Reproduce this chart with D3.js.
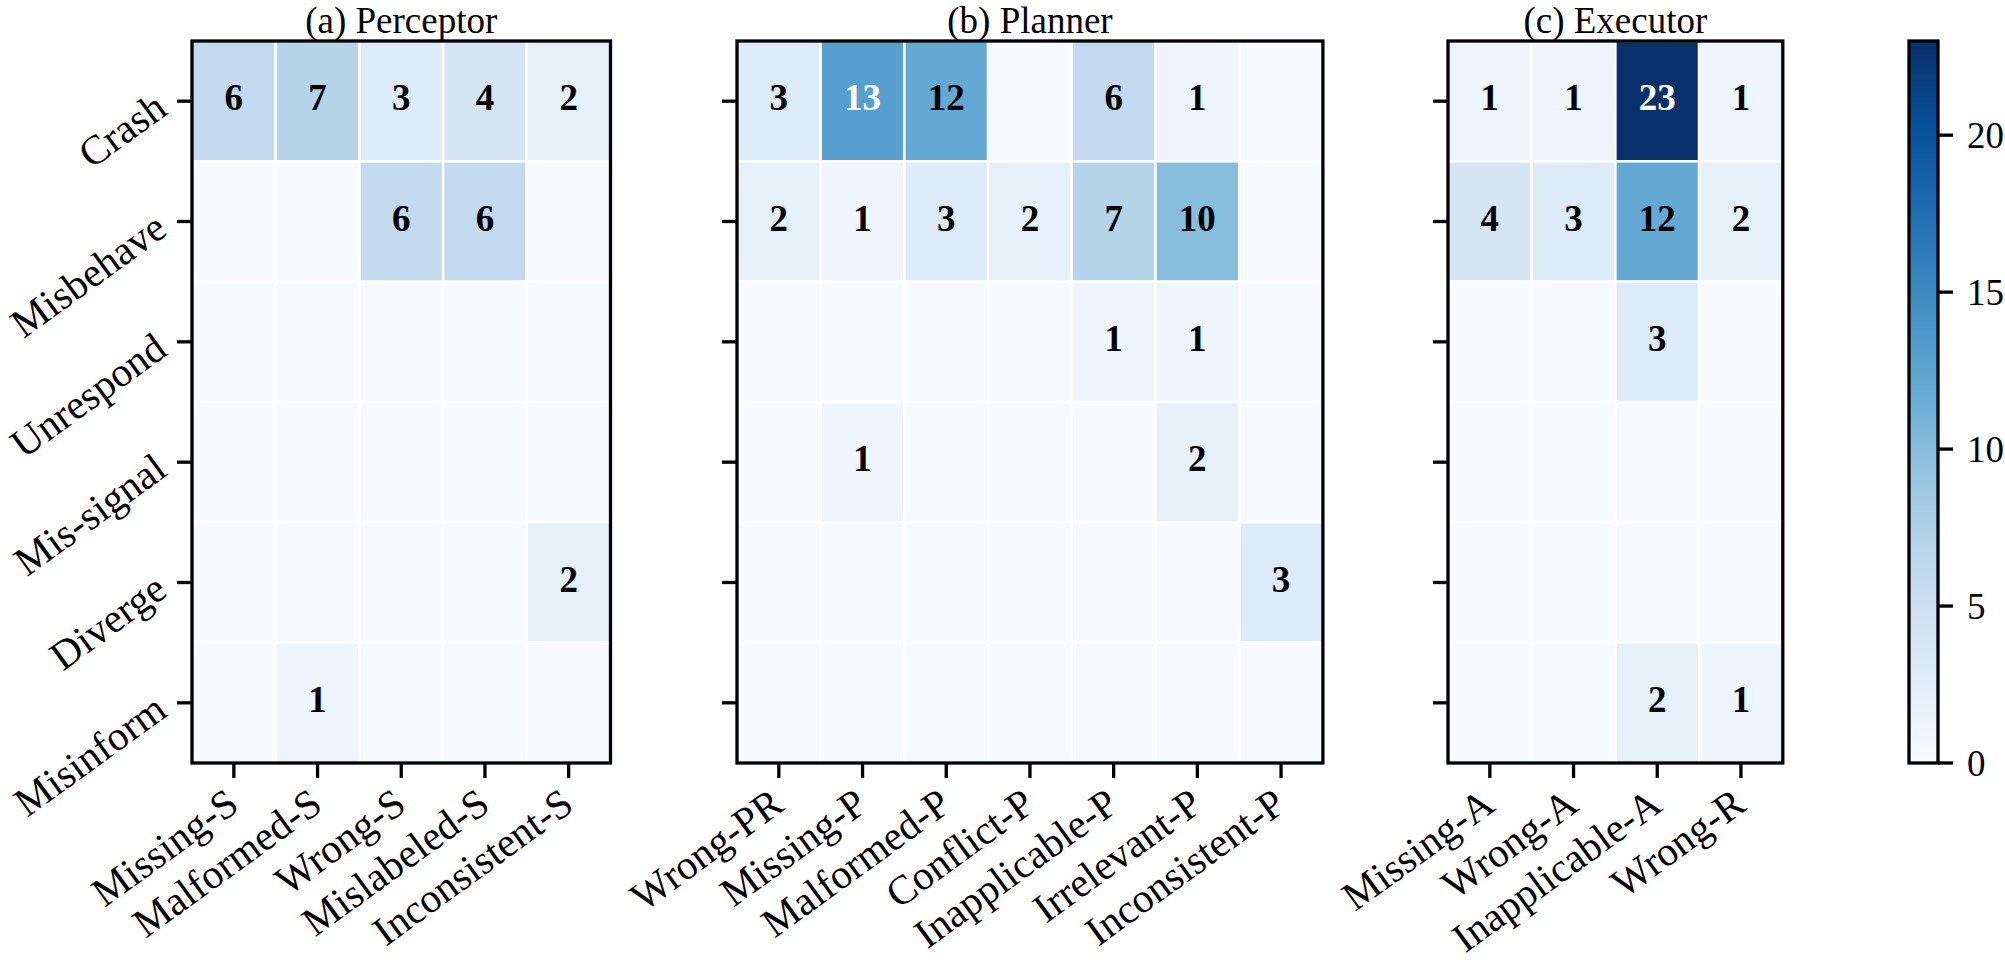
<!DOCTYPE html>
<html>
<head>
<meta charset="utf-8">
<script src="https://cdn.jsdelivr.net/npm/d3@7"></script>
<style>
  html, body { margin: 0; padding: 0; background: #ffffff; }
  svg { display: block; }
  text { font-family: "Liberation Serif", "Times New Roman", serif; fill: #000; }
</style>
</head>
<body>
<svg id="chart" width="2005" height="976"></svg>
<script>
// ---------------- DATA ----------------
const rowLabels = ["Crash", "Misbehave", "Unrespond", "Mis-signal", "Diverge", "Misinform"];

const perceptorCols = ["Missing-S", "Malformed-S", "Wrong-S", "Mislabeled-S", "Inconsistent-S"];
const perceptorValues = [
  [6, 7, 3, 4, 2],
  [0, 0, 6, 6, 0],
  [0, 0, 0, 0, 0],
  [0, 0, 0, 0, 0],
  [0, 0, 0, 0, 2],
  [0, 1, 0, 0, 0]
];

const plannerCols = ["Wrong-PR", "Missing-P", "Malformed-P", "Conflict-P", "Inapplicable-P", "Irrelevant-P", "Inconsistent-P"];
const plannerValues = [
  [3, 13, 12, 0, 6, 1, 0],
  [2, 1, 3, 2, 7, 10, 0],
  [0, 0, 0, 0, 1, 1, 0],
  [0, 1, 0, 0, 0, 2, 0],
  [0, 0, 0, 0, 0, 0, 3],
  [0, 0, 0, 0, 0, 0, 0]
];

const executorCols = ["Missing-A", "Wrong-A", "Inapplicable-A", "Wrong-R"];
const executorValues = [
  [1, 1, 23, 1],
  [4, 3, 12, 2],
  [0, 0, 3, 0],
  [0, 0, 0, 0],
  [0, 0, 0, 0],
  [0, 0, 2, 1]
];

const panelTitles = ["(a) Perceptor", "(b) Planner", "(c) Executor"];
const colorbarTicks = [0, 5, 10, 15, 20];
const colorMin = 0, colorMax = 23;
// matplotlib "Blues" anchor colours
const bluesStops = ["#f7fbff", "#deebf7", "#c6dbef", "#9ecae1", "#6baed6", "#4292c6", "#2171b5", "#08519c", "#08306b"];

// ---------------- LAYOUT ----------------
const plotTop = 41, plotBottom = 763;
const cellW = 83.7;
const panelLefts = [192, 737, 1448];
const cbLeft = 1909, cbWidth = 29;
const spineW = 3.3, tickLen = 15, tickW = 3.3;
const tickFont = 41, titleFont = 37, annotFont = 37, cbFont = 37;
const labelAngle = 36;

const svg = d3.select("#chart");

const color = d3.scaleLinear()
  .domain(bluesStops.map((_, i) => colorMin + (colorMax - colorMin) * i / (bluesStops.length - 1)))
  .range(bluesStops)
  .interpolate(d3.interpolateRgb)
  .clamp(true);

function luminance(c) {
  const rgb = d3.rgb(c);
  const lin = v => { v /= 255; return v <= 0.03928 ? v / 12.92 : Math.pow((v + 0.055) / 1.055, 2.4); };
  return 0.2126 * lin(rgb.r) + 0.7152 * lin(rgb.g) + 0.0722 * lin(rgb.b);
}

const panels = [
  { cols: perceptorCols, values: perceptorValues, title: panelTitles[0], showY: true },
  { cols: plannerCols, values: plannerValues, title: panelTitles[1], showY: false },
  { cols: executorCols, values: executorValues, title: panelTitles[2], showY: false }
];

const y = d3.scaleBand().domain(rowLabels).range([plotTop, plotBottom]).padding(0);

panels.forEach((p, pi) => {
  const x0 = panelLefts[pi];
  const x = d3.scaleBand().domain(p.cols).range([x0, x0 + cellW * p.cols.length]).padding(0);
  const g = svg.append("g");

  const cells = [];
  p.values.forEach((row, ri) => row.forEach((v, ci) => cells.push({ r: rowLabels[ri], c: p.cols[ci], v })));

  g.selectAll("rect.cell").data(cells).join("rect")
    .attr("class", "cell")
    .attr("x", d => x(d.c)).attr("y", d => y(d.r))
    .attr("width", x.bandwidth()).attr("height", y.bandwidth())
    .attr("fill", d => color(d.v))
    .attr("stroke", "#ffffff").attr("stroke-width", 2.5);

  g.selectAll("text.annot").data(cells.filter(d => d.v > 0)).join("text")
    .attr("class", "annot")
    .attr("x", d => x(d.c) + x.bandwidth() / 2)
    .attr("y", d => y(d.r) + y.bandwidth() / 2 + annotFont * 0.34 - 3.5)
    .attr("text-anchor", "middle")
    .style("font-size", annotFont + "px").style("font-weight", "bold")
    .style("fill", d => luminance(color(d.v)) < 0.33 ? "#ffffff" : "#000000")
    .text(d => d.v);

  // frame
  const [rx0, rx1] = x.range();
  g.append("rect")
    .attr("x", rx0).attr("y", plotTop).attr("width", rx1 - rx0).attr("height", plotBottom - plotTop)
    .attr("fill", "none").attr("stroke", "#000").attr("stroke-width", spineW);

  // x ticks + labels (rotated, right end anchored just below the tick)
  p.cols.forEach(c => {
    const cx = x(c) + x.bandwidth() / 2;
    g.append("line").attr("x1", cx).attr("x2", cx).attr("y1", plotBottom).attr("y2", plotBottom + tickLen)
      .attr("stroke", "#000").attr("stroke-width", tickW);
    g.append("text")
      .attr("text-anchor", "end")
      .attr("transform", `translate(${cx + 7},${plotBottom + tickLen + 31}) rotate(${-labelAngle})`)
      .style("font-size", tickFont + "px")
      .text(c);
  });

  // y ticks + labels
  rowLabels.forEach(r => {
    const cy = y(r) + y.bandwidth() / 2;
    g.append("line").attr("x1", rx0 - tickLen).attr("x2", rx0).attr("y1", cy).attr("y2", cy)
      .attr("stroke", "#000").attr("stroke-width", tickW);
    if (p.showY) {
      g.append("text")
        .attr("text-anchor", "end")
        .attr("transform", `translate(${rx0 - 23},${cy + 12}) rotate(${-labelAngle})`)
        .style("font-size", tickFont + "px")
        .text(r);
    }
  });

  // title
  g.append("text")
    .attr("x", (rx0 + rx1) / 2).attr("y", 33)
    .attr("text-anchor", "middle")
    .style("font-size", titleFont + "px")
    .text(p.title);
});

// ---------------- COLORBAR ----------------
const cbScale = d3.scaleLinear().domain([colorMin, colorMax]).range([plotBottom, plotTop]);
const defs = svg.append("defs");
const grad = defs.append("linearGradient").attr("id", "cbgrad")
  .attr("x1", "0").attr("y1", "1").attr("x2", "0").attr("y2", "0");
bluesStops.forEach((c, i) => grad.append("stop").attr("offset", i / (bluesStops.length - 1)).attr("stop-color", c));

svg.append("rect").attr("x", cbLeft).attr("y", plotTop).attr("width", cbWidth).attr("height", plotBottom - plotTop)
  .attr("fill", "url(#cbgrad)");
svg.append("rect").attr("x", cbLeft).attr("y", plotTop).attr("width", cbWidth).attr("height", plotBottom - plotTop)
  .attr("fill", "none").attr("stroke", "#000").attr("stroke-width", spineW);

const cbAxis = svg.append("g");
colorbarTicks.forEach(v => {
  const ty = cbScale(v);
  cbAxis.append("line").attr("x1", cbLeft + cbWidth).attr("x2", cbLeft + cbWidth + tickLen)
    .attr("y1", ty).attr("y2", ty).attr("stroke", "#000").attr("stroke-width", tickW);
  cbAxis.append("text").attr("x", cbLeft + cbWidth + tickLen + 14).attr("y", ty)
    .attr("dy", "0.34em")
    .style("font-size", cbFont + "px").text(v);
});
</script>
</body>
</html>
